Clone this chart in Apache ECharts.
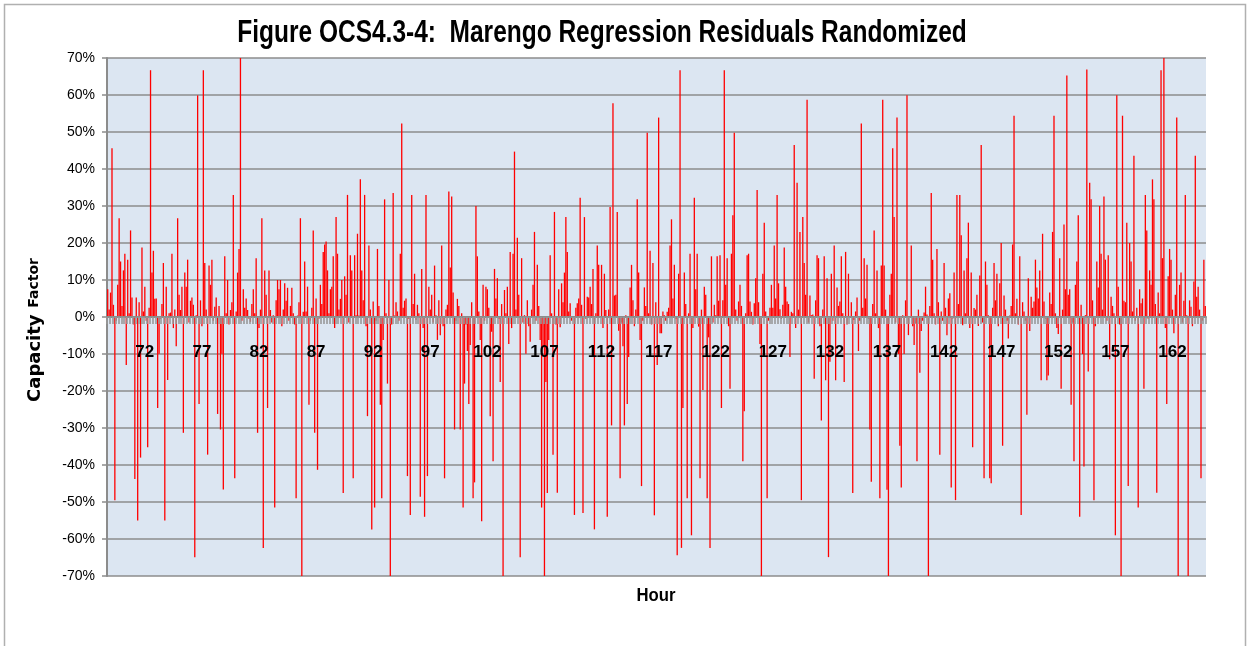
<!DOCTYPE html>
<html>
<head>
<meta charset="utf-8">
<title>Marengo Regression Residuals Randomized</title>
<script src="https://cdn.jsdelivr.net/npm/echarts@6/dist/echarts.min.js"></script>
<style>
  html, body { margin: 0; padding: 0; background: #ffffff; }
  #chart { width: 1249px; height: 646px; }
</style>
</head>
<body>
<div id="chart"></div>
<script>
// hour labels shown on the axis, every 5 hours (40 slots of 7.5 min)
const hourTicks = ['72', '77', '82', '87', '92', '97', '102', '107', '112', '117',
  '122', '127', '132', '137', '142', '147', '152', '157', '162'];
const firstTickSlot = 26;
const slotsPerTick = 40;

// residuals in % (capacity factor), one value per 7.5 minute slot
const residuals = [
  7.5, 2, 6.6, 45.6, 3.3, -49.5, -1, 8.7, 26.7, 15, 3, 12.6, 17.1, -13, 15.5, 1, 23.4, 5.3, -2, -43.8,
  5.3, -55, 4, -38, 18.8, 1.5, 8.2, -1, -35.2, 2.5, 66.7, 12, 17.9, 4.9, 5, -24.6, -9.9, -0.5, 3.5, 14.6,
  -55, 8.2, -17, 1, 1.2, 17.1, -3, 2, -7.9, 26.7, 6, 1.9, 8.2, -31.3, 12, 8.2, 15.5, -1.5, 4.4, 5.3,
  3.3, -64.9, 0.5, 59.9, -23.5, 4.5, -2.5, 66.7, 14.6, 2, -37.2, 13.9, 8.7, 15.5, -1, 2.8, 5.3, -26.2, 3, -30.4,
  -9.9, -46.6, 16.4, 1, 10, -2, 1.9, 4, 33, -43.6, 1.5, 12, 18.4, 70, -1, 7.5, 2.5, 5, 1.9, -0.5,
  -1.3, 3.5, 7.5, 1, 15.9, -31.3, -3, 2, 26.7, -62.4, 12.6, 6, -24.6, 12.6, 1.9, -1.5, 0.5, -51.5, 4.5, 10,
  7.5, 10, -2.5, 2, 9.1, 4.4, 7.9, -1, 3, 7.9, 1, -2, -49, 0.4, 4, 26.7, -70, 1.4, 15, 1.5,
  8.2, -23.7, -1, 2.5, 23.4, -31.3, 5, -41.3, -0.5, 8.7, 3.5, 17.6, 19.6, 20.4, 12.6, 1, 7.5, 8.2, 16.4, -3,
  27, 17.1, 2, 4.9, 10, -47.6, 11, 6, 33, -1.5, 16.7, 12.6, -43.6, 16.7, 0.5, 22.5, 0.4, 37.2, 12.6, 4.5,
  33, -2.5, -26.8, 19.3, 2, -57.4, 4.2, -51.5, -1, 18.4, 3, -23.7, -49, -6.2, 31.8, 1, -18, 10, -70, -2,
  33.5, 0.4, 4, 1.5, -1, 17.1, 52.3, 2.5, 4.4, 5, -43, -0.5, -53.5, 33, 3.5, 11.7, -0.8, 3.3, 1, -48.6,
  13, -3, -54, 33, -43, 8.2, 2, 6, -1.5, 13.9, 0.5, -6.2, 4.5, -4.9, 19.3, -2.5, -43.6, 2, 3.3, 33.9,
  13.4, 32.6, 6.6, -30.4, -1, 4.9, 3, -30.4, 1, -51.5, -18, -2, -9.2, -23.5, -7.6, 4, -49, -44.7, 30, 16.4,
  1.5, -6.2, -55.2, 8.7, -1, 8.2, 7.5, 2.5, -26.8, -4, -39, 13, 5, 10.5, -0.5, -17.6, 3.5, -70, 7.3, 1,
  8.2, -7.3, 17.6, -3, 17.1, 44.7, 2, 21.4, 6, -64.9, 15.9, -1.5, 0.5, -9.9, 4.5, -2.5, -6.7, 2, 8.7, 23,
  -1, 14.1, 3, -6.2, -51.5, -8, -70, -17.6, -47.6, -6.2, 16.7, 1, -37.2, 28.4, -2, -47.5, 7.5, -2.8, 9.1, 4,
  12, 27, 17.6, 1.5, 3.7, -1, 0.3, -53.5, 2.5, 3.7, 5, 32.2, 3.3, -53, 27, -0.5, 5.5, 5.3, 8.2, 3.5,
  13, -57.4, 1, 19.3, 14.1, 0.3, 14.1, -3, 11.7, 1.9, -54, 2, 29.7, -29.3, 57.8, 5.8, 6, 28.4, -3.7, -43.6,
  -1.5, -7.9, -29.3, 0.5, -23.5, -10.8, 8, 14.1, 4.5, -2.5, 2, 31.8, 12, -6.2, -45.7, -1, 8, 3, 49.8, 1,
  17.9, -2, 14.6, -53.6, 4, -13, 53.9, -4.4, -4.4, 1.5, 0.5, -1, 1.4, 2.5, 19.3, 26.4, 5, 14.1, -0.5, -64.4,
  11.7, 66.7, -62.4, -24.6, 12, 3.5, -49, 1, 17.1, -59, -3, 32.2, 7.5, 17.1, -2.6, -43.6, 2, -19.7, 8.2, 6,
  -49, -5.5, -62.4, 16.4, -1.5, 3.3, 0.5, 16.4, 4.4, 16.7, -24.6, 4.5, 66.7, 8.7, 15.9, -2.5, -19.4, 17.1, 27.5, 49.8,
  2, -1, 4.2, 8.7, 3, -39, -25.5, 1, 16.7, 17.1, 4.2, 1.4, -2, 3.7, 10.5, 34.3, 4, -7.3, -70, 11.7,
  25.5, 1.5, -49, -1, 2.5, 8.7, 2.5, 19.3, 5, 33, 9.1, 2.1, -0.5, 3.3, 18.8, 8.2, 4.2, 3.5, -10.8, 1.4,
  1, 46.5, -3, 36.3, 2, 23, -49.5, 27, 14.6, 6, 58.7, -1.5, 5.8, 0.5, 0.7, -16.7, 4.5, 16.7, 15.9, -2.5,
  -28, 2, 16.4, -17.1, 10.5, -64.9, -12.1, 11.7, -1, 19.3, -17.1, 8, 3, 4.2, 16.4, 1, -17.6, 17.6, -2, 11.7,
  0.3, 4, -47.6, -0.8, 1.5, 5.3, -9.2, -1, 52.3, 2.5, 15.9, 5, 14.1, -0.5, -30.4, -44.5, 3.5, 23.4, 1, 12.6,
  -3, -49, 13.9, 58.7, 13.9, 2, -46.7, -70, 6, 11.7, 45.6, 27, -1.5, 53.9, -10, -34.8, -46.1, 0.5, -10, 4.5,
  59.9, -4.9, 0.3, 19.3, -2.5, -7.6, -1.7, -39, 2, -15.1, -3.8, -1, 1.2, 8.2, 0.7, -70, 3, 33.5, 15.5, 1,
  -2, 18.4, 4, -37.2, 1.5, -1, 14.6, 2.5, -4.9, 5, 6.4, -46.1, -0.5, 12, -49.5, 33, 3.5, 33, 22.1, -2.2,
  12.6, 1, 15.9, 25.5, -3, 12, -35.2, 2.4, 2, 6, -2.4, 11.2, 46.5, -1.5, -43.6, 15, 8.7, 0.5, -43.6, -44.9,
  2.5, 14.6, 4.5, 11.7, -2.5, 9.1, 20, -34.8, 5.8, 2, -1, -5.8, 0.4, 3, 19.6, 54.4, 1, 4.9, -2, 16.4,
  -53.5, 4, 1.5, -1, -26.4, 10.5, -3.8, 5.5, 2.5, 4.2, 15.5, 8, 5, 12.6, -17.1, 22.5, 4.2, -0.5, -17.1, -15.8,
  6.6, 3.5, 23, 54.4, 1, -3, -4.6, 15.9, -19.4, 2, 25, 7.5, 65.3, 6, 7.5, -23.7, -1.5, -39, 8.7, 15,
  27.5, -54, 3.3, -10, -40.4, 0.5, 66.9, -14.7, 36.3, 31.8, 4.5, -49.5, -2.5, 15, 8, 30, 17.1, 2, 32.6, 15.5,
  -1, 16.7, -11.4, 5.5, 3, 1, -59, 59.9, 8.2, -2, -70, 54.4, 4.4, 4, 25.5, -45.7, 20, 15, 1.5, 43.6,
  -1, 2.5, -51.5, 7.5, 3.7, 5, -19.4, 33, 23.4, -0.5, 12.6, 8.7, 37.2, 31.8, 3.5, -47.5, 6.6, 1, 66.7, 15.9,
  70, -3, -23.5, 11, 18.4, 15.5, 2, -4.4, 6, 53.9, -70, 8.7, 12, -1.5, 4.4, 33, 0.5, -70, 4.5, 2.8,
  -2.5, 9.6, 43.6, 5.5, 8.2, 2, -43.6, -1, 15.5, 3
];

const slots = residuals.map((v, i) => String(i));

const chart = echarts.init(document.getElementById('chart'));

// plot box in px; the category axis sits on the 0% line (middle of the box)
const plotTop = 58;
const plotBottom = 576;
const zeroShift = (plotBottom - plotTop) / 2;

const option = {
  animation: false,
  backgroundColor: '#ffffff',
  grid: {
    left: 107,
    right: 43,
    top: plotTop,
    bottom: 646 - plotBottom,
    show: true,
    backgroundColor: '#dce6f2',
    borderWidth: 0,
  },
  graphic: [
    {
      type: 'rect',
      shape: { x: 4.5, y: 4.5, width: 1241, height: 700 },
      style: { fill: 'none', stroke: '#b0b0b0', lineWidth: 1.5 },
      silent: true,
    },
    {
      type: 'text',
      x: 602,
      y: 33,
      scaleX: 0.79,
      style: {
        text: 'Figure OCS4.3-4:  Marengo Regression Residuals Randomized',
        font: 'bold 31px "Liberation Sans", sans-serif',
        fill: '#000000',
        align: 'center',
        verticalAlign: 'middle',
      },
    },
    {
      type: 'text',
      x: 656,
      y: 596,
      scaleX: 0.88,
      style: {
        text: 'Hour',
        font: 'bold 19px "Liberation Sans", sans-serif',
        fill: '#000000',
        align: 'center',
        verticalAlign: 'middle',
      },
    },
  ],
  xAxis: {
    type: 'category',
    data: slots,
    boundaryGap: true,
    offset: -zeroShift,
    z: 5, // ticks and hour labels are drawn over the bars
    axisLine: {
      onZero: false,
      lineStyle: { color: '#8c8c8c', width: 2 },
    },
    axisTick: {
      show: true,
      interval: 1,
      length: 7,
      lineStyle: { color: '#999999', width: 1.6 },
    },
    axisLabel: {
      interval: (index) => index >= firstTickSlot && (index - firstTickSlot) % slotsPerTick === 0,
      formatter: (value, index) => hourTicks[(index - firstTickSlot) / slotsPerTick] || '',
      margin: 27,
      color: '#000000',
      fontSize: 17,
      fontWeight: 'bold',
      fontFamily: '"Liberation Sans", sans-serif',
    },
    splitLine: { show: false },
  },
  yAxis: {
    type: 'value',
    min: -70,
    max: 70,
    interval: 10,
    name: '{a|Capacity}  {b|Factor}',
    nameLocation: 'middle',
    nameRotate: 90,
    nameGap: 63,
    nameTextStyle: {
      padding: [0, 26, 0, 0],
      rich: {
        a: { fontSize: 18, fontWeight: 'bold', color: '#000', fontFamily: '"DejaVu Sans", sans-serif', verticalAlign: 'bottom' },
        b: { fontSize: 14, fontWeight: 'bold', color: '#000', fontFamily: '"DejaVu Sans", sans-serif', verticalAlign: 'bottom', padding: [0, 0, 3, 0] },
      },
    },
    axisLine: {
      show: true,
      lineStyle: { color: '#8c8c8c', width: 2 },
    },
    axisTick: {
      show: true,
      length: 5,
      lineStyle: { color: '#8c8c8c', width: 1.5 },
    },
    axisLabel: {
      formatter: '{value}%',
      margin: 12,
      color: '#000000',
      fontSize: 14,
      fontFamily: '"Liberation Sans", sans-serif',
    },
    splitLine: {
      show: true,
      lineStyle: { color: '#8c8c8c', width: 1.5 },
    },
  },
  series: [
    {
      name: 'Residual',
      type: 'bar',
      data: residuals,
      barWidth: 1.3,
      itemStyle: { color: '#ff0000' },
      silent: true,
    },
  ],
};

chart.setOption(option);
</script>
</body>
</html>
